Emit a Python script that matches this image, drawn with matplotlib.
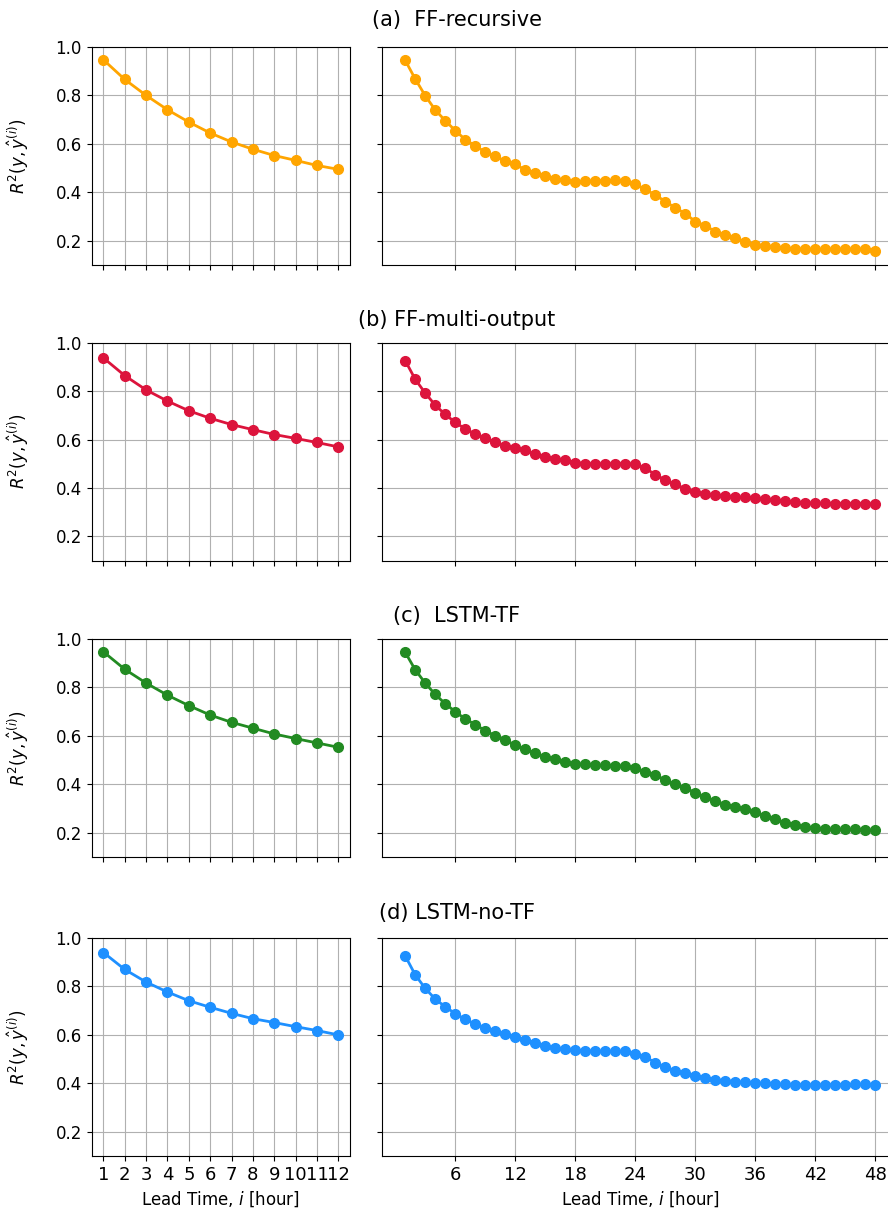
import numpy as np
import matplotlib
matplotlib.use("Agg")
import matplotlib.pyplot as plt

lead_12 = list(range(1, 13))
lead_48 = list(range(1, 49))

titles = ["(a)  FF-recursive", "(b) FF-multi-output", "(c)  LSTM-TF", "(d) LSTM-no-TF"]
colors = ["orange", "crimson", "forestgreen", "dodgerblue"]

# short horizon (1-12 h)
ff_rec_12 = [0.947, 0.866, 0.800, 0.741, 0.690, 0.645, 0.608, 0.578, 0.552, 0.532, 0.511, 0.495]
ff_multi_12 = [0.937, 0.864, 0.805, 0.759, 0.719, 0.688, 0.662, 0.641, 0.621, 0.605, 0.588, 0.570]
lstm_tf_12 = [0.947, 0.875, 0.818, 0.768, 0.725, 0.686, 0.656, 0.632, 0.608, 0.589, 0.571, 0.553]
lstm_notf_12 = [0.940, 0.870, 0.818, 0.777, 0.741, 0.714, 0.689, 0.667, 0.651, 0.634, 0.618, 0.600]

# long horizon (1-48 h)
ff_rec_48 = [0.945, 0.868, 0.799, 0.740, 0.696, 0.655, 0.618, 0.592, 0.566, 0.548,
             0.529, 0.515, 0.493, 0.481, 0.468, 0.455, 0.451, 0.442, 0.445, 0.448,
             0.448, 0.449, 0.447, 0.433, 0.412, 0.389, 0.362, 0.336, 0.312, 0.279,
             0.262, 0.238, 0.223, 0.211, 0.196, 0.184, 0.179, 0.173, 0.171, 0.166,
             0.167, 0.164, 0.166, 0.166, 0.166, 0.166, 0.166, 0.159]
ff_multi_48 = [0.926, 0.849, 0.792, 0.742, 0.704, 0.671, 0.644, 0.623, 0.607, 0.589,
               0.575, 0.564, 0.555, 0.541, 0.530, 0.521, 0.515, 0.505, 0.501, 0.500,
               0.500, 0.501, 0.501, 0.499, 0.482, 0.455, 0.433, 0.415, 0.397, 0.382,
               0.375, 0.370, 0.366, 0.363, 0.362, 0.359, 0.355, 0.351, 0.345, 0.341,
               0.340, 0.337, 0.337, 0.336, 0.336, 0.336, 0.336, 0.334]
lstm_tf_48 = [0.945, 0.873, 0.818, 0.771, 0.733, 0.700, 0.670, 0.647, 0.621, 0.601,
              0.582, 0.562, 0.545, 0.529, 0.514, 0.503, 0.492, 0.486, 0.482, 0.479,
              0.478, 0.477, 0.475, 0.467, 0.452, 0.438, 0.418, 0.400, 0.384, 0.366,
              0.347, 0.332, 0.316, 0.307, 0.297, 0.284, 0.270, 0.256, 0.242, 0.233,
              0.222, 0.219, 0.215, 0.215, 0.214, 0.214, 0.212, 0.210]
lstm_notf_48 = [0.926, 0.848, 0.792, 0.748, 0.716, 0.688, 0.664, 0.645, 0.630, 0.616,
                0.604, 0.590, 0.580, 0.567, 0.553, 0.545, 0.540, 0.536, 0.534, 0.533,
                0.532, 0.532, 0.532, 0.523, 0.508, 0.486, 0.467, 0.452, 0.441, 0.432,
                0.423, 0.415, 0.411, 0.407, 0.404, 0.401, 0.400, 0.397, 0.396, 0.395,
                0.393, 0.392, 0.393, 0.395, 0.395, 0.396, 0.396, 0.393]

short_vals = [ff_rec_12, ff_multi_12, lstm_tf_12, lstm_notf_12]
long_vals = [ff_rec_48, ff_multi_48, lstm_tf_48, lstm_notf_48]

W, H = 888, 1217
fig = plt.figure(figsize=(W / 100, H / 100), dpi=100)

row_bottoms = [265, 560.7, 857, 1156]   # px from top
row_h = 218
title_y = [20, 320, 616, 913]

for r in range(4):
    b = 1 - row_bottoms[r] / H
    h = row_h / H
    axl = fig.add_axes([91.7 / W, b, (350 - 91.7) / W, h])
    axr = fig.add_axes([381.7 / W, b, (899 - 381.7) / W, h])

    axl.plot(lead_12, short_vals[r], "-o", color=colors[r], lw=2, ms=7)
    axr.plot(lead_48, long_vals[r], "-o", color=colors[r], lw=2, ms=7)

    for ax in (axl, axr):
        ax.set_ylim(0.1, 1.0)
        ax.set_yticks([0.2, 0.4, 0.6, 0.8, 1.0])
        ax.grid(True)
        ax.tick_params(labelsize=12)
        ax.tick_params(axis="x", labelsize=13)
    axl.set_xticks(lead_12)
    axr.set_xticks([6, 12, 18, 24, 30, 36, 42, 48])
    axr.set_yticklabels([])
    axl.set_ylabel(r"$R^2(y,\hat{y}^{(i)})$", fontsize=12)
    axl.yaxis.set_label_coords(-0.235, 0.5)

    if r < 3:
        axl.set_xticklabels([])
        axr.set_xticklabels([])
    else:
        axl.set_xlabel(r"Lead Time, $i$ [hour]", fontsize=12)
        axr.set_xlabel(r"Lead Time, $i$ [hour]", fontsize=12)

    fig.text(457 / W, 1 - title_y[r] / H, titles[r], ha="center", va="center", fontsize=15)

fig.savefig("out.png", dpi=100)
